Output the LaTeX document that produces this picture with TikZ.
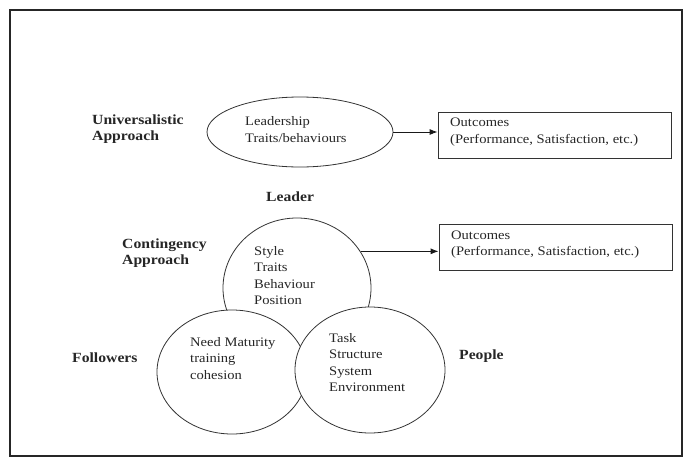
\documentclass[tikz,border=0pt]{standalone}
\usepackage{fontspec}
\setmainfont{Liberation Serif}[FakeStretch=1.12]
\usetikzlibrary{shapes.geometric,arrows.meta}
\begin{document}
\begin{tikzpicture}[x=1pt,y=-1pt,
  txt/.style={inner sep=0pt,anchor=west,align=left,font=\fontsize{13}{16.5}\selectfont,text=black!85},
  btxt/.style={txt,font=\fontsize{14}{16.5}\selectfont\bfseries},
  shp/.style={draw=black!80,line width=0.8pt,inner sep=0pt},
  oval/.style={shp,ellipse,fill=white},
  obox/.style={shp,rectangle},
  conn/.style={draw=black!90,line width=0.9pt,-{Latex[length=8pt,width=6pt]}}]
\useasboundingbox (0,0) rectangle (688,458);
\draw[line width=1.6pt,black!85] (10,10) rectangle (682,456);
% Universalistic
\node[oval,minimum width=186pt,minimum height=70pt] (lead) at (300,132) {};
\node[obox,minimum width=233pt,minimum height=46pt] (o1) at (554.5,135) {};
\node[btxt] (ua) at (92,129) {Universalistic\\Approach};
\node[txt] (lt) at (245,129.5) {Leadership\\Traits/behaviours};
\node[txt] (o1t) at (450,132) {Outcomes\\(Performance, Satisfaction, etc.)};
\draw[conn] (lead.east) -- (lead.east -| o1.west);
% Contingency
\node[oval,minimum width=148pt,minimum height=140pt] (lc) at (297,288) {};
\node[oval,minimum width=150pt,minimum height=124pt] (fc) at (232,372) {};
\node[oval,minimum width=150pt,minimum height=126pt] (pc) at (370,370) {};
\node[obox,minimum width=233pt,minimum height=46pt] (o2) at (555.5,247) {};
\node[btxt] (ldr) at (266,197) {Leader};
\node[btxt] (ca) at (122,253) {Contingency\\Approach};
\node[txt] (lct) at (254,275.5) {Style\\Traits\\Behaviour\\Position};
\node[txt] (fct) at (190,358.5) {Need Maturity\\training\\cohesion};
\node[txt] (pct) at (329,362.5) {Task\\Structure\\System\\Environment};
\node[btxt] (fl) at (72,358) {Followers};
\node[btxt] (pp) at (459,356) {People};
\node[txt] (o2t) at (451,244.5) {Outcomes\\(Performance, Satisfaction, etc.)};
\draw[conn] (lc.30) -- (lc.30 -| o2.west);
\end{tikzpicture}
\end{document}
